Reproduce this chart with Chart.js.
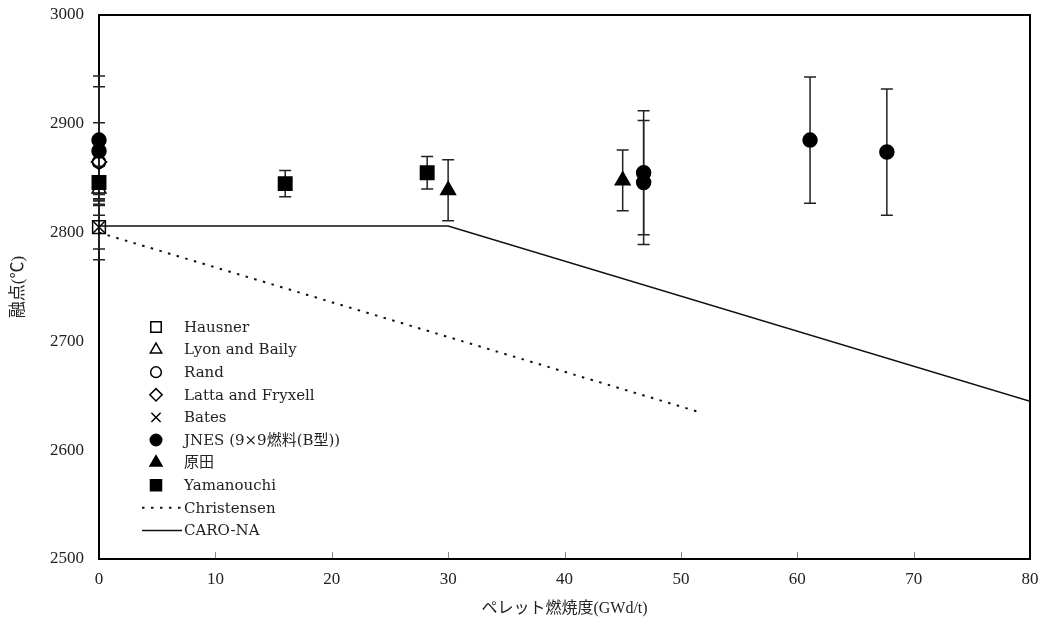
<!DOCTYPE html>
<html>
<head>
<meta charset="utf-8">
<script src="https://cdn.jsdelivr.net/npm/chart.js@4/dist/chart.umd.min.js"></script>
<style>
  html, body { margin: 0; padding: 0; background: #fff; }
</style>
</head>
<body>
<canvas id="meltChart" width="1051" height="636"></canvas>
<script>
// ---- データ ----
const hausnerX = [0];
const hausnerY = [2805];
const hausnerErr = [20];

const lyonX = [0];
const lyonY = [2840];
const lyonErr = [10];

const randX = [0];
const randY = [2865];
const randErr = [36];

const lattaX = [0];
const lattaY = [2865];
const lattaErr = [20];

const batesX = [0];
const batesY = [2805];
const batesErr = [30];

const jnesX = [0, 0, 46.8, 46.8, 61.1, 67.7];
const jnesY = [2885, 2875, 2855, 2846, 2885, 2874];
const jnesErr = [59, 59, 57, 57, 58, 58];

const haradaX = [30.0, 45.0];
const haradaY = [2839, 2848];
const haradaErr = [28, 28];

const yamaX = [0, 16.0, 28.2];
const yamaY = [2846, 2845, 2855];
const yamaErr = [15, 12, 15];

const christensenX = [0, 51.6];
const christensenY = [2800, 2635];

const caroX = [0, 30, 80];
const caroY = [2806, 2806, 2645];

const legendLabels = [
  "Hausner", "Lyon and Baily", "Rand", "Latta and Fryxell", "Bates",
  "JNES (9×9燃料(B型))", "原田", "Yamanouchi", "Christensen", "CARO-NA"
];

const xMin = 0, xMax = 80, xStep = 10;
const yMin = 2500, yMax = 3000, yStep = 100;

const xTitle = "ペレット燃焼度(GWd/t)";
const yTitle = "融点(℃)";

// ---- 描画設定 ----
const fontFamily = '"Liberation Serif", "Noto Sans CJK JP", serif';
const legendFont = '"DejaVu Serif", "Noto Sans CJK JP", serif';
const clear = "rgba(0,0,0,0)";

const pts = (xs, ys) => xs.map((x, i) => ({ x, y: ys[i] }));

function markerSet(label, xs, ys, errs, style, radius, filled) {
  return {
    label,
    data: pts(xs, ys),
    errors: errs,
    pointStyle: style,
    pointRadius: radius,
    pointHoverRadius: radius,
    pointBorderWidth: 1.5,
    borderColor: "#000",
    backgroundColor: filled ? "#000" : clear,
    showLine: false,
    clip: false
  };
}

const datasets = [
  markerSet(legendLabels[0], hausnerX, hausnerY, hausnerErr, "rect", 9, false),
  markerSet(legendLabels[1], lyonX, lyonY, lyonErr, "triangle", 8, false),
  markerSet(legendLabels[2], randX, randY, randErr, "circle", 6.5, false),
  markerSet(legendLabels[3], lattaX, lattaY, lattaErr, "rectRot", 7.5, false),
  markerSet(legendLabels[4], batesX, batesY, batesErr, "crossRot", 8, false),
  markerSet(legendLabels[5], jnesX, jnesY, jnesErr, "circle", 7, true),
  markerSet(legendLabels[6], haradaX, haradaY, haradaErr, "triangle", 8.5, true),
  markerSet(legendLabels[7], yamaX, yamaY, yamaErr, "rect", 9.5, true),
  {
    label: legendLabels[8],
    data: pts(christensenX, christensenY),
    showLine: true,
    borderColor: "#111",
    borderWidth: 2,
    borderDash: [2.5, 6.5],
    pointRadius: 0,
    fill: false
  },
  {
    label: legendLabels[9],
    data: pts(caroX, caroY),
    showLine: true,
    borderColor: "#111",
    borderWidth: 1.5,
    pointRadius: 0,
    fill: false
  }
];

// 枠線と内向きの目盛り
const framePlugin = {
  id: "frame",
  beforeDatasetsDraw(chart) {
    const { ctx, chartArea: a, scales } = chart;
    ctx.save();
    ctx.strokeStyle = "#888";
    ctx.lineWidth = 1;
    scales.x.ticks.forEach(t => {
      const px = Math.round(scales.x.getPixelForValue(t.value)) + 0.5;
      ctx.beginPath();
      ctx.moveTo(px, a.bottom);
      ctx.lineTo(px, a.bottom - 7);
      ctx.stroke();
    });
    ctx.strokeStyle = "#000";
    ctx.lineWidth = 2;
    ctx.strokeRect(a.left, a.top, a.right - a.left, a.bottom - a.top);
    ctx.restore();
  }
};

// 誤差棒
const errorBarPlugin = {
  id: "errorBars",
  beforeDatasetsDraw(chart) {
    const { ctx, scales: { x, y } } = chart;
    ctx.save();
    ctx.strokeStyle = "#222";
    ctx.lineWidth = 1.5;
    chart.data.datasets.forEach(ds => {
      if (!ds.errors) return;
      ds.data.forEach((p, i) => {
        const px = x.getPixelForValue(p.x);
        const top = y.getPixelForValue(p.y + ds.errors[i]);
        const bot = y.getPixelForValue(p.y - ds.errors[i]);
        ctx.beginPath();
        ctx.moveTo(px, top); ctx.lineTo(px, bot);
        ctx.moveTo(px - 6, top); ctx.lineTo(px + 6, top);
        ctx.moveTo(px - 6, bot); ctx.lineTo(px + 6, bot);
        ctx.stroke();
      });
    });
    ctx.restore();
  }
};

// 凡例（プロット内左下）
const insideLegend = {
  id: "insideLegend",
  afterDraw(chart) {
    const ctx = chart.ctx;
    const markX = 156, textX = 184, y0 = 327, step = 22.6;
    ctx.save();
    ctx.font = "15px " + legendFont;
    ctx.textBaseline = "middle";
    chart.data.datasets.forEach((ds, i) => {
      const ly = y0 + i * step;
      ctx.strokeStyle = ds.borderColor;
      ctx.fillStyle = ds.backgroundColor || clear;
      if (ds.showLine) {
        ctx.lineWidth = ds.borderWidth;
        ctx.setLineDash(ds.borderDash || []);
        ctx.beginPath();
        ctx.moveTo(142, ly);
        ctx.lineTo(182, ly);
        ctx.stroke();
        ctx.setLineDash([]);
      } else {
        ctx.lineWidth = 1.5;
        Chart.helpers.drawPoint(ctx, {
          pointStyle: ds.pointStyle,
          radius: ds.pointRadius * 0.82,
          rotation: 0,
          borderWidth: 1.5
        }, markX, ly);
      }
      ctx.fillStyle = "#222";
      ctx.fillText(ds.label, textX, ly + 1);
    });
    ctx.restore();
  }
};

new Chart(document.getElementById("meltChart"), {
  type: "scatter",
  data: { datasets },
  options: {
    responsive: false,
    animation: false,
    devicePixelRatio: 1,
    layout: { padding: { top: 15, right: 21, left: 0, bottom: 0 } },
    plugins: {
      legend: { display: false },
      tooltip: { enabled: false }
    },
    scales: {
      x: {
        type: "linear",
        min: xMin,
        max: xMax,
        afterFit: s => { s.height = 77; },
        border: { display: false },
        grid: { display: false, drawTicks: false },
        ticks: {
          stepSize: xStep,
          padding: 10,
          color: "#222",
          font: { family: fontFamily, size: 17 }
        },
        title: {
          display: true,
          text: xTitle,
          color: "#222",
          padding: { top: 0, bottom: 18 },
          font: { family: fontFamily, size: 16 }
        }
      },
      y: {
        type: "linear",
        min: yMin,
        max: yMax,
        afterFit: s => { s.width = 99; s.paddingTop = 0; s.paddingBottom = 0; },
        border: { display: false },
        grid: { display: false, drawTicks: false },
        ticks: {
          stepSize: yStep,
          padding: 15,
          color: "#222",
          font: { family: fontFamily, size: 17 },
          callback: v => String(v)
        },
        title: {
          display: true,
          text: yTitle,
          color: "#222",
          padding: { top: 8, bottom: 0 },
          font: { family: fontFamily, size: 17 }
        }
      }
    }
  },
  plugins: [framePlugin, errorBarPlugin, insideLegend]
});
</script>
</body>
</html>
